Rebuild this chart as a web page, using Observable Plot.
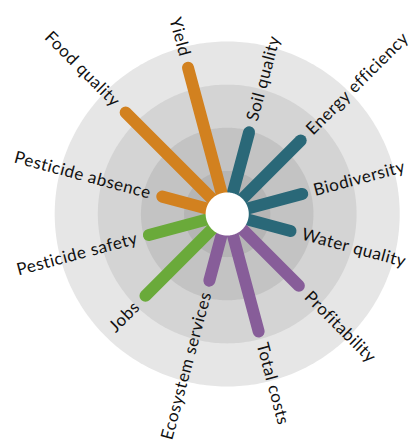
<!DOCTYPE html>
<html>
<head>
<meta charset="utf-8">
<script src="https://cdn.jsdelivr.net/npm/d3@7"></script>
<script src="https://cdn.jsdelivr.net/npm/@observablehq/plot@0.6"></script>
<style>
  html, body { margin: 0; padding: 0; background: #fff; }
  svg { display: block; }
  svg text { letter-spacing: 0.5px; }
</style>
</head>
<body>
<div id="chart"></div>
<script>
// Categories, clockwise starting just right of 12 o'clock
const categories = ["Soil quality", "Energy efficiency", "Biodiversity", "Water quality",
  "Profitability", "Total costs", "Ecosystem services", "Jobs",
  "Pesticide safety", "Pesticide absence", "Food quality", "Yield"];
// Score on a 0–4 scale (4 = outermost ring)
const values = [1.96, 2.41, 1.80, 1.52, 2.35, 2.82, 1.60, 2.68, 1.88, 1.56, 3.33, 3.51];
// Group of each category (drives colour)
const groups = ["environment", "environment", "environment", "environment",
  "economic", "economic", "economic", "social",
  "social", "health", "health", "health"];
const groupNames = ["environment", "economic", "social", "health"];
const groupColors = ["#2a6878", "#875d99", "#6aaa3a", "#d2811f"];
// Background rings
const ringLevels = [4, 3, 2, 1];
const ringColors = ["#e6e6e6", "#d4d4d4", "#c3c3c3", "#b5b5b5"];
const holeLevel = 0.5;

const DEG = 10; // angular degrees per score unit
const data = categories.map((name, i) => {
  const theta = 15 + 30 * i; // clockwise from top
  return {name, value: values[i], group: groups[i], theta, lon: 180 - theta};
});
const right = data.filter(d => d.theta < 180);
const left = data.filter(d => d.theta > 180);
const colorOf = g => groupColors[groupNames.indexOf(g)];
const circle = r => d3.geoCircle().center([0, 90]).radius(r * DEG).precision(1)();
const labelLat = d => 90 - (d.value * DEG + 2.8);

const chart = Plot.plot({
  width: 413,
  height: 441,
  marginLeft: 54.2,
  marginRight: 13.8,
  marginTop: 41,
  marginBottom: 55,
  projection: {
    type: "azimuthal-equidistant",
    rotate: [0, -90],
    domain: circle(4)
  },
  marks: [
    Plot.geo(ringLevels, {geometry: d => circle(d), fill: (d, i) => ringColors[i], stroke: null}),
    Plot.link(data, {
      x1: d => d.lon, y1: 90, x2: d => d.lon, y2: d => 90 - d.value * DEG,
      stroke: d => colorOf(d.group), strokeWidth: 12, strokeLinecap: "round"
    }),
    Plot.geo([holeLevel], {geometry: d => circle(d), fill: "white"}),
    Plot.text(right, {
      x: d => d.lon, y: labelLat, text: "name", rotate: d => d.theta - 90,
      textAnchor: "start", fontSize: 17, fontFamily: "Lato", fill: "#111"
    }),
    Plot.text(left, {
      x: d => d.lon, y: labelLat, text: "name", rotate: d => d.theta - 270,
      textAnchor: "end", fontSize: 17, fontFamily: "Lato", fill: "#111"
    })
  ]
});
document.getElementById("chart").appendChild(chart);
</script>
</body>
</html>
